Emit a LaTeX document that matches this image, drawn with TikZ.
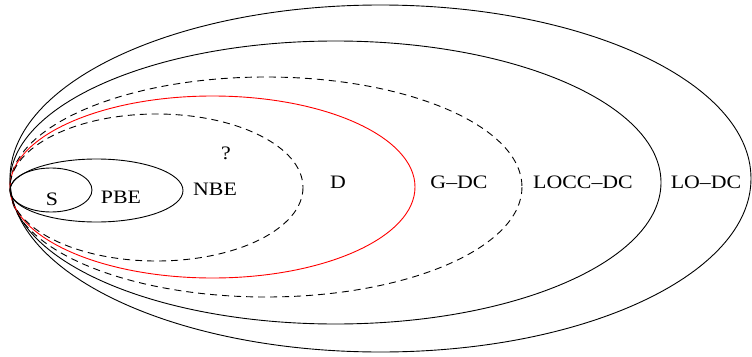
\documentclass[tikz,border=0pt]{standalone}
\usepackage{fontspec}
\setmainfont{Liberation Serif}[FakeStretch=1.15]
\begin{document}
\begin{tikzpicture}[x=1pt,y=-1pt,
  set/.style={line width=0.9pt},
  dashset/.style={set,dash pattern=on 7pt off 5pt},
  lbl/.style={font=\fontsize{19}{22}\selectfont,inner sep=0pt}]
  \useasboundingbox (0,0) rectangle (752,356);
  % nested classes, all touching at the left
  \draw[set] (380.5,178.5) ellipse [x radius=370.5, y radius=173.5];
  \draw[set] (335.5,182.5) ellipse [x radius=325.5, y radius=141.5];
  \draw[dashset] (266,187) ellipse [x radius=256, y radius=110];
  \draw[set,red] (212.5,187) ellipse [x radius=202.5, y radius=91];
  \draw[dashset] (156.5,187.5) ellipse [x radius=146.5, y radius=73.5];
  \draw[set] (96.5,190.5) ellipse [x radius=86.5, y radius=31.5];
  \draw[set] (51,190) ellipse [x radius=41, y radius=22];
  % class labels
  \node[lbl] (s) at (52,199) {S};
  \node[lbl] (pbe) at (121,197) {PBE};
  \node[lbl] (nbe) at (215,189) {NBE};
  \node[lbl] (q) at (226,153) {?};
  \node[lbl] (d) at (338,182) {D};
  \node[lbl] (gdc) at (459,182) {G--DC};
  \node[lbl] (loccdc) at (583,182) {LOCC--DC};
  \node[lbl] (lodc) at (706,182) {LO--DC};
\end{tikzpicture}
\end{document}
